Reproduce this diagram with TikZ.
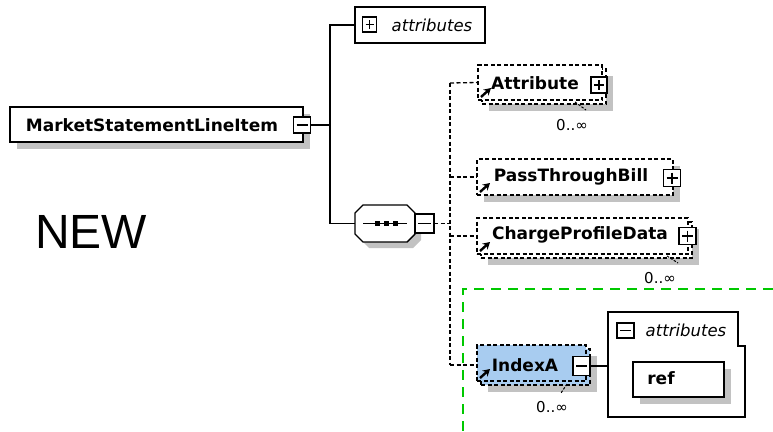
\documentclass[tikz,border=0pt]{standalone}
\usepackage{fontspec}
\setmainfont{DejaVu Sans}
\newfontfamily\bignewfont{Liberation Sans}
\usetikzlibrary{shadows,arrows.meta}
\definecolor{shgray}{HTML}{C2C2C2}
\definecolor{idxblue}{HTML}{A8CCF0}
\definecolor{grn}{HTML}{00C800}
\begin{document}
\begin{tikzpicture}[x=1pt,y=-1pt,
  shd/.style={general shadow={fill=shgray, shadow xshift=7pt, shadow yshift=-7pt}},
  elem/.style={draw, line width=1.4pt, fill=white, inner sep=0pt, outer sep=0pt, minimum height=35pt},
  dbox/.style={draw, line width=1.2pt, dash pattern=on 4pt off 2.5pt, fill=white, inner sep=0pt, outer sep=0pt, minimum height=35pt},
  lbl/.style={font=\fontsize{17}{18}\selectfont\bfseries, inner sep=0pt},
  ital/.style={font=\fontsize{16.5}{18}\selectfont\itshape, inner sep=0pt},
  mult/.style={font=\fontsize{15}{16}\selectfont, inner sep=0pt},
  pmbox/.style={draw, fill=white, line width=1.3pt, inner sep=0pt, outer sep=0pt, minimum width=15pt, minimum height=15pt},
  minusbox/.style={pmbox, path picture={\draw[line width=1.3pt] ([xshift=3pt]path picture bounding box.west) -- ([xshift=-3pt]path picture bounding box.east);}},
  plusbox/.style={pmbox, path picture={\draw[line width=1.3pt] ([xshift=3pt]path picture bounding box.west) -- ([xshift=-3pt]path picture bounding box.east);
      \draw[line width=1.3pt] ([yshift=-3pt]path picture bounding box.north) -- ([yshift=3pt]path picture bounding box.south);}},
  conn/.style={line width=1.4pt},
  dconn/.style={line width=1.3pt, dash pattern=on 4pt off 2.5pt},
  tick/.style={line width=1pt, dash pattern=on 2.5pt off 1.5pt},
  icon/.style={line width=2.4pt, -{Stealth[length=7pt,width=8pt]}},
  gdash/.style={draw=grn, line width=2pt, dash pattern=on 10pt off 7pt}
]
\useasboundingbox[fill=white] (0,0) rectangle (773,431);

% NEW
\node[font=\bignewfont\fontsize{48}{50}\selectfont, inner sep=0pt] (new) at (91,232) {NEW};

% main element
\node[elem, shd, minimum width=293pt] (msli) at (156.5,124.5) {};
\node[lbl] (msliT) at (152,125) {MarketStatementLineItem};
\node[minusbox, minimum width=17pt, minimum height=16pt] (msliM) at (302,125) {};

% top attributes
\node[elem, minimum width=130pt, minimum height=36pt] (attrs) at (420,25) {};
\node[plusbox, minimum width=14pt] (attrsP) at (369.5,24.5) {};
\node[ital] (attrsT) at (432,25) {attributes};

% sequence compositor (octagon)
\node[inner sep=0pt, outer sep=0pt, minimum width=60pt, minimum height=37pt] (seq) at (385,223.5) {};
\fill[shgray, transform canvas={shift={(6pt,-6pt)}}]
   ([shift={(8,0)}]seq.north west) -- ([shift={(-8,0)}]seq.north east) -- ([shift={(0,8)}]seq.north east)
   -- ([shift={(0,-8)}]seq.south east) -- ([shift={(-8,0)}]seq.south east) -- ([shift={(8,0)}]seq.south west)
   -- ([shift={(0,-8)}]seq.south west) -- ([shift={(0,8)}]seq.north west) -- cycle;
\draw[line width=1.4pt, fill=white]
   ([shift={(8,0)}]seq.north west) -- ([shift={(-8,0)}]seq.north east) -- ([shift={(0,8)}]seq.north east)
   -- ([shift={(0,-8)}]seq.south east) -- ([shift={(-8,0)}]seq.south east) -- ([shift={(8,0)}]seq.south west)
   -- ([shift={(0,-8)}]seq.south west) -- ([shift={(0,8)}]seq.north west) -- cycle;
\draw[line width=1.4pt] (363,223.5) -- (407,223.5);
\foreach \dx/\nm in {377/d1,386/d2,395/d3}
  \node[fill=black, inner sep=0pt, minimum size=5pt] (\nm) at (\dx,223.5) {};
\node[minusbox, minimum width=19pt, minimum height=19pt] (seqM) at (424.5,223.5) {};

% solid connectors
\coordinate (j1) at (330,125);
\draw[conn] (msliM.east) -- (j1);
\draw[conn] (attrs.west) -- ++(-25,0) |- (seq.west);

% Attribute (stacked)
\node[dbox, shd, minimum width=124pt] (attrB) at (544,86.5) {};
\node[dbox, minimum width=124pt] (attr) at (540,82.5) {};
\node[lbl] (attrT) at (535,83) {Attribute};
\node[plusbox, minimum width=16pt, minimum height=16pt] (attrP) at (599,85) {};
\draw[icon] ([shift={(3,-3)}]attr.south west) -- ++(10,-9);
\node[mult] (attrMul) at (572,125) {0..∞};
\coordinate (attrTk) at (575,102);
\draw[tick] (attrTk) -- ++(11,8);

% PassThroughBill
\node[dbox, shd, minimum width=196pt, minimum height=36pt] (ptb) at (575,177) {};
\node[lbl] (ptbT) at (571,177) {PassThroughBill};
\node[plusbox, minimum width=17pt, minimum height=17pt] (ptbP) at (672,178) {};
\draw[icon] ([shift={(3,-3)}]ptb.south west) -- ++(10,-9);

% ChargeProfileData (stacked)
\node[dbox, shd, minimum width=211pt, minimum height=36pt] (cpdB) at (586.5,240) {};
\node[dbox, minimum width=211pt, minimum height=36pt] (cpd) at (582.5,236) {};
\node[lbl] (cpdT) at (580,235) {ChargeProfileData};
\node[plusbox, minimum width=17pt, minimum height=17pt] (cpdP) at (687.5,236) {};
\draw[icon] ([shift={(3,-3)}]cpd.south west) -- ++(10,-9);
\node[mult] (cpdMul) at (660,278) {0..∞};
\coordinate (cpdTk) at (667,256);
\draw[tick] (cpdTk) -- ++(11,7);

% green dashed boundary
\coordinate (g1) at (773,289);
\coordinate (g2) at (463,289);
\coordinate (g3) at (463,431);
\draw[gdash] (g1) -- (g2) -- (g3);

% IndexA (stacked, highlighted)
\node[dbox, shd, fill=idxblue, minimum width=109pt, minimum height=36pt] (idxB) at (535.5,367) {};
\node[dbox, fill=idxblue, minimum width=109pt, minimum height=36pt] (idx) at (531.5,363) {};
\node[lbl] (idxT) at (525,365) {IndexA};
\node[minusbox, minimum width=17pt, minimum height=19pt] (idxM) at (581.5,366) {};
\draw[icon] ([shift={(3,-3)}]idx.south west) -- ++(10,-9);
\node[mult] (idxMul) at (552,407) {0..∞};
\coordinate (idxTk) at (567,384);
\draw[tick] (idxTk) -- ++(-6,9);

% dashed spine and branches
\coordinate (spTop) at (450,83);
\coordinate (spBot) at (450,365);
\draw[dconn] (seqM.east) -- (seqM.east -| spTop);
\draw[dconn] (spTop) -- (spBot);
\draw[dconn] (spTop) -- (attr.west);
\draw[dconn] (spTop |- ptb.west) -- (ptb.west);
\draw[dconn] (spTop |- cpd.west) -- (cpd.west);
\draw[dconn] (spBot) -- (spBot -| idx.west);

% attributes container of IndexA
\coordinate (c1) at (608,312);
\coordinate (c2) at (738,312);
\coordinate (c3) at (738,346);
\coordinate (c4) at (745,346);
\coordinate (c5) at (745,417);
\coordinate (c6) at (608,417);
\draw[line width=1.4pt, fill=white] (c1) -- (c2) -- (c3) -- (c4) -- (c5) -- (c6) -- cycle;
\node[minusbox, minimum width=17pt, minimum height=15pt] (contM) at (625.5,330.5) {};
\node[ital] (contT) at (686,330) {attributes};
\coordinate (cW) at (608,366);
\draw[conn] (idxM.east) -- (cW);

% ref attribute
\node[elem, shd, minimum width=91pt, minimum height=35pt] (ref) at (678.5,379.5) {};
\node[lbl] (refT) at (661,378) {ref};
\end{tikzpicture}
\end{document}
